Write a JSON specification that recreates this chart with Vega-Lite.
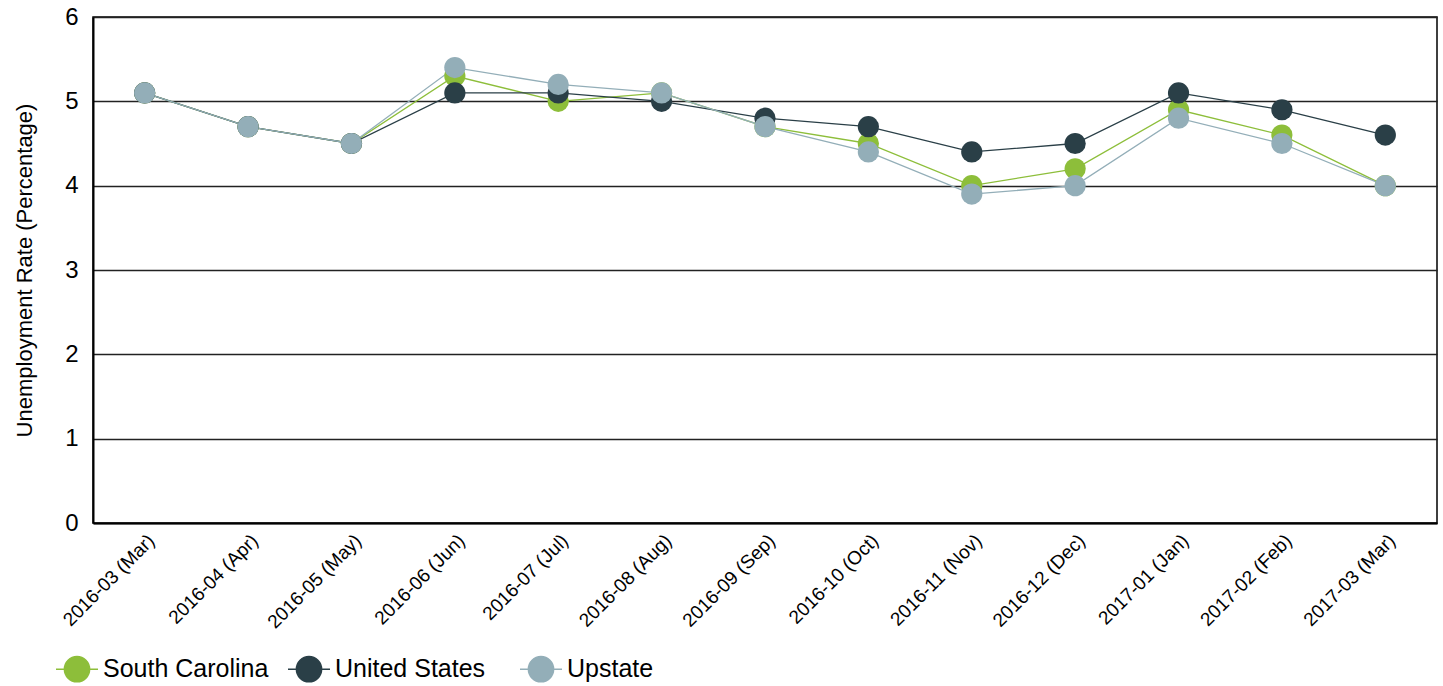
{
  "$schema": "https://vega.github.io/schema/vega-lite/v6.json",
  "width": 1344,
  "height": 506,
  "autosize": {"type": "none"},
  "padding": {"left": 93, "top": 17, "right": 6, "bottom": 163},
  "background": "white",
  "config": {
    "font": "Liberation Sans",
    "view": {"stroke": "#000", "strokeWidth": 1.5}
  },
  "data": {
    "values": [
      {"month": "2016-03 (Mar)", "series": "South Carolina", "rate": 5.1},
      {"month": "2016-03 (Mar)", "series": "United States", "rate": 5.1},
      {"month": "2016-03 (Mar)", "series": "Upstate", "rate": 5.1},
      {"month": "2016-04 (Apr)", "series": "South Carolina", "rate": 4.7},
      {"month": "2016-04 (Apr)", "series": "United States", "rate": 4.7},
      {"month": "2016-04 (Apr)", "series": "Upstate", "rate": 4.7},
      {"month": "2016-05 (May)", "series": "South Carolina", "rate": 4.5},
      {"month": "2016-05 (May)", "series": "United States", "rate": 4.5},
      {"month": "2016-05 (May)", "series": "Upstate", "rate": 4.5},
      {"month": "2016-06 (Jun)", "series": "South Carolina", "rate": 5.3},
      {"month": "2016-06 (Jun)", "series": "United States", "rate": 5.1},
      {"month": "2016-06 (Jun)", "series": "Upstate", "rate": 5.4},
      {"month": "2016-07 (Jul)", "series": "South Carolina", "rate": 5.0},
      {"month": "2016-07 (Jul)", "series": "United States", "rate": 5.1},
      {"month": "2016-07 (Jul)", "series": "Upstate", "rate": 5.2},
      {"month": "2016-08 (Aug)", "series": "South Carolina", "rate": 5.1},
      {"month": "2016-08 (Aug)", "series": "United States", "rate": 5.0},
      {"month": "2016-08 (Aug)", "series": "Upstate", "rate": 5.1},
      {"month": "2016-09 (Sep)", "series": "South Carolina", "rate": 4.7},
      {"month": "2016-09 (Sep)", "series": "United States", "rate": 4.8},
      {"month": "2016-09 (Sep)", "series": "Upstate", "rate": 4.7},
      {"month": "2016-10 (Oct)", "series": "South Carolina", "rate": 4.5},
      {"month": "2016-10 (Oct)", "series": "United States", "rate": 4.7},
      {"month": "2016-10 (Oct)", "series": "Upstate", "rate": 4.4},
      {"month": "2016-11 (Nov)", "series": "South Carolina", "rate": 4.0},
      {"month": "2016-11 (Nov)", "series": "United States", "rate": 4.4},
      {"month": "2016-11 (Nov)", "series": "Upstate", "rate": 3.9},
      {"month": "2016-12 (Dec)", "series": "South Carolina", "rate": 4.2},
      {"month": "2016-12 (Dec)", "series": "United States", "rate": 4.5},
      {"month": "2016-12 (Dec)", "series": "Upstate", "rate": 4.0},
      {"month": "2017-01 (Jan)", "series": "South Carolina", "rate": 4.9},
      {"month": "2017-01 (Jan)", "series": "United States", "rate": 5.1},
      {"month": "2017-01 (Jan)", "series": "Upstate", "rate": 4.8},
      {"month": "2017-02 (Feb)", "series": "South Carolina", "rate": 4.6},
      {"month": "2017-02 (Feb)", "series": "United States", "rate": 4.9},
      {"month": "2017-02 (Feb)", "series": "Upstate", "rate": 4.5},
      {"month": "2017-03 (Mar)", "series": "South Carolina", "rate": 4.0},
      {"month": "2017-03 (Mar)", "series": "United States", "rate": 4.6},
      {"month": "2017-03 (Mar)", "series": "Upstate", "rate": 4.0}
    ]
  },
  "encoding": {
    "x": {
      "field": "month",
      "type": "ordinal",
      "sort": null,
      "scale": {"type": "point", "padding": 0.5},
      "axis": {
        "title": null,
        "labelAngle": -45,
        "labelFontSize": 19,
        "labelColor": "#000",
        "labelPadding": 8,
        "ticks": false,
        "grid": false,
        "domainColor": "#000",
        "domainWidth": 2
      }
    },
    "y": {
      "field": "rate",
      "type": "quantitative",
      "scale": {"domain": [0, 6], "nice": false},
      "axis": {
        "title": "Unemployment Rate (Percentage)",
        "titleFontSize": 22,
        "titleFontWeight": "normal",
        "titleColor": "#000",
        "titlePadding": 28,
        "values": [0, 1, 2, 3, 4, 5, 6],
        "labelFontSize": 24,
        "labelColor": "#000",
        "labelPadding": 15,
        "ticks": false,
        "grid": true,
        "gridColor": "#222",
        "gridWidth": 1.5,
        "domainColor": "#000",
        "domainWidth": 2
      }
    },
    "color": {
      "field": "series",
      "type": "nominal",
      "scale": {
        "domain": ["South Carolina", "United States", "Upstate"],
        "range": ["#8DBE3A", "#2A3F47", "#93AEB8"]
      },
      "legend": {
        "title": null,
        "orient": "none",
        "legendX": -38,
        "legendY": 630,
        "direction": "horizontal",
        "columns": 3,
        "gridAlign": "all",
        "columnPadding": 16,
        "labelFontSize": 25,
        "labelColor": "#000",
        "labelOffset": 4,
        "labelLimit": 300,
        "symbolType": "M-1,0H-0.6M0.6,0H1M0.6,0A0.6,0.6 0 1,1 -0.6,0A0.6,0.6 0 1,1 0.6,0Z",
        "symbolSize": 1764,
        "symbolStrokeWidth": 1.5,
        "symbolOpacity": 1,
        "encode": {
          "symbols": {
            "update": {
              "stroke": {"scale": "color", "field": "value"},
              "fill": {"scale": "color", "field": "value"},
              "strokeWidth": {"value": 1.5},
              "opacity": {"value": 1}
            }
          }
        }
      }
    }
  },
  "layer": [
    {"mark": {"type": "line", "strokeWidth": 1.3}},
    {"mark": {"type": "point", "filled": true, "shape": "circle", "size": 450, "opacity": 1}}
  ]
}
